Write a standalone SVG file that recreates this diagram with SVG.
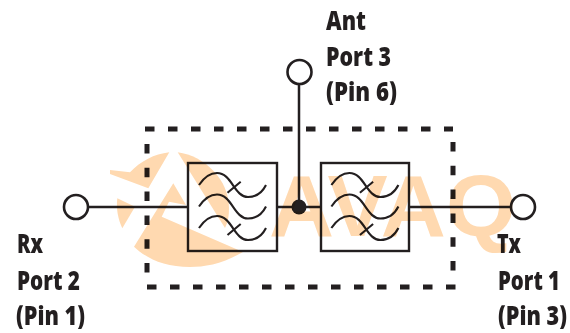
<svg xmlns="http://www.w3.org/2000/svg" width="570" height="333" viewBox="0 0 570 333">
<style>
.box{fill:none;stroke:#231f20;stroke-width:2.4}
.wire{fill:none;stroke:#231f20;stroke-width:2.5}
.port{fill:#fff;stroke:#231f20;stroke-width:2.6}
.curve{fill:none;stroke:#231f20;stroke-width:2.1}
.dash{fill:none;stroke:#231f20;stroke-width:5;stroke-dasharray:9.500 13.500}
.dashv{fill:none;stroke:#231f20;stroke-width:5;stroke-dasharray:9.500 14.300}
.lbl{font-family:"Open Sans","Liberation Sans",sans-serif;font-weight:800;font-size:27px;fill:#231f20}
.wm{mix-blend-mode:multiply}
.wm path{fill:#ffd9b0}
.wm text{fill:#ffd9b0;font-family:"Liberation Sans",sans-serif;font-weight:700;font-size:87px}
</style>
<defs>
<g id="filter-curves">
<path d="M199,185C205,176 211,173 217,173C232,173 234,197 248,197C256,197 262,193 266,185"/>
<path d="M199,206.500C205,197.500 211,194.500 217,194.500C232,194.500 234,218.500 248,218.500C256,218.500 262,214.500 266,206.500"/>
<path d="M199,228C205,219 211,216 217,216C232,216 234,240 248,240C256,240 262,236 266,228"/>
<path d="M227.500,192.700L240.700,181.700M227.500,235L240.700,224"/>
</g>
</defs>
<g id="connectors">
<path class="wire" d="M88,207H188M277,207H321M409,207H511M299,84V207"/>
<path class="dash" d="M145,129H453"/>
<path class="dashv" d="M453,142V272"/>
<path class="dash" d="M147,287H456"/>
<path class="dashv" d="M147,144V274"/>
</g>
<g id="filter-rx">
<rect class="box" x="188" y="163" width="89" height="88"/>
<use href="#filter-curves" class="curve"/>
</g>
<g id="filter-tx">
<rect class="box" x="321" y="163" width="88" height="88"/>
<use href="#filter-curves" class="curve" x="132.400"/>
</g>
<g id="junction"><circle cx="299" cy="207" r="7.500" fill="#231f20"/></g>
<g id="port-ant">
<circle class="port" cx="299.500" cy="72" r="12"/>
<text class="lbl" transform="translate(326,30) scale(.75,1)" textLength="53.300" lengthAdjust="spacingAndGlyphs">Ant</text>
<text class="lbl" transform="translate(326,66) scale(.75,1)" textLength="86.700" lengthAdjust="spacingAndGlyphs">Port 3</text>
<text class="lbl" transform="translate(326,101) scale(.75,1)" textLength="94.700" lengthAdjust="spacingAndGlyphs">(Pin 6)</text>
</g>
<g id="port-rx">
<circle class="port" cx="76" cy="207" r="12"/>
<text class="lbl" transform="translate(17,253) scale(.75,1)" textLength="34.700" lengthAdjust="spacingAndGlyphs">Rx</text>
<text class="lbl" transform="translate(17,290) scale(.75,1)" textLength="84" lengthAdjust="spacingAndGlyphs">Port 2</text>
<text class="lbl" transform="translate(16,325) scale(.75,1)" textLength="92" lengthAdjust="spacingAndGlyphs">(Pin 1)</text>
</g>
<g id="port-tx">
<circle class="port" cx="523" cy="207" r="12"/>
<text class="lbl" transform="translate(497,253) scale(.75,1)" textLength="32" lengthAdjust="spacingAndGlyphs">Tx</text>
<text class="lbl" transform="translate(498,290) scale(.75,1)" textLength="82.700" lengthAdjust="spacingAndGlyphs">Port 1</text>
<text class="lbl" transform="translate(498,325) scale(.75,1)" textLength="92" lengthAdjust="spacingAndGlyphs">(Pin 3)</text>
</g>
<g id="watermark" class="wm">
<path d="M110,170L130,172.300C141,161 154,154 169.300,152.300L148.300,188.300L110,174Z"/>
<path d="M177.700,152.300C205,156 229,180 229,208C229,216 228,222 225,228Z"/>
<path d="M117.300,198.300L135,206.700L122.300,228.300C118,219 116,209 117.300,198.300Z"/>
<path d="M173.300,183.300L186,205L169,201.700L161.700,216.700L243,252C222,264 205,267 190,267C165,267 147,259 134,246.700Z"/>
<text x="269" y="236" textLength="247" lengthAdjust="spacingAndGlyphs">AVAQ</text>
</g>
</svg>
